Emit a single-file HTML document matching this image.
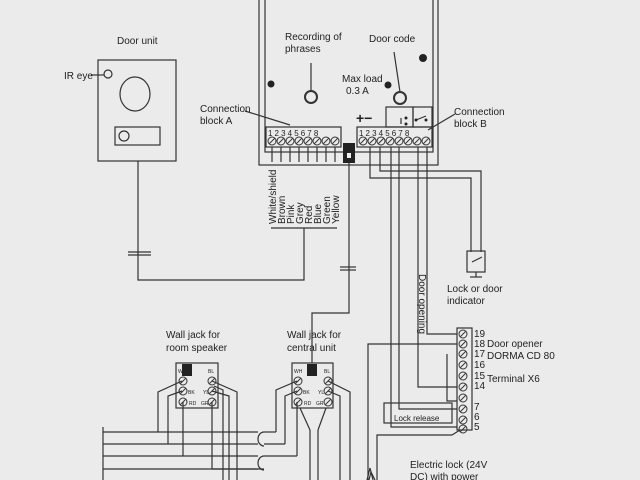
<!DOCTYPE html>
<html><head><style>
html,body{margin:0;padding:0;background:#ebebeb;}
svg{display:block;}
text{font-family:"Liberation Sans",sans-serif;font-size:10px;fill:#222;}
</style></head><body>
<svg width="640" height="480" viewBox="0 0 640 480" xmlns="http://www.w3.org/2000/svg">
<rect width="640" height="480" fill="#ebebeb"/>
<g stroke="#333" stroke-width="1.2" fill="none">
<rect x="259" y="-5" width="179" height="170"/>
<rect x="265" y="-5" width="168" height="157"/>
<rect x="266" y="127" width="75" height="20"/>
<rect x="357" y="127" width="75" height="20"/>
<rect x="386" y="107" width="27" height="20"/>
<rect x="413" y="107" width="19" height="20"/>
<line x1="401" y1="118" x2="401" y2="124"/><line x1="416" y1="120" x2="426" y2="116"/>
<circle cx="311" cy="97" r="6" stroke-width="2"/>
<circle cx="400" cy="98" r="6" stroke-width="2"/>
<line x1="311" y1="91" x2="311" y2="63"/>
<line x1="400" y1="92" x2="394" y2="52"/>
<line x1="455" y1="114" x2="428" y2="130"/>
<line x1="245" y1="111" x2="290" y2="125"/>
<rect x="98" y="60" width="78" height="101"/>
<circle cx="108" cy="74" r="4"/>
<line x1="91" y1="75" x2="104" y2="75"/>
<ellipse cx="135" cy="94" rx="15" ry="17"/>
<rect x="115" y="127" width="45" height="18"/>
<circle cx="124" cy="136" r="5"/>
<polyline points="138,161 138,280 304,280 304,228"/>
<line x1="128" y1="252" x2="151" y2="252"/>
<line x1="128" y1="255" x2="151" y2="255"/>
<line x1="271" y1="228" x2="337" y2="228"/>
<line x1="340" y1="267" x2="356" y2="267"/>
<line x1="340" y1="270" x2="356" y2="270"/>
<line x1="272" y1="147" x2="272" y2="162"/><line x1="281" y1="147" x2="281" y2="162"/><line x1="290" y1="147" x2="290" y2="162"/><line x1="299" y1="147" x2="299" y2="162"/><line x1="308" y1="147" x2="308" y2="162"/><line x1="317" y1="147" x2="317" y2="162"/><line x1="326" y1="147" x2="326" y2="162"/><line x1="335" y1="147" x2="335" y2="162"/>
<polyline points="349,160 349,313 312,313 312,363"/>
<polyline points="370,147 370,178 471,178 471,252"/>
<polyline points="380,147 380,171 481,171 481,252"/>
<polyline points="391,147 391,427 457,427"/>
<polyline points="399,147 399,409 457,409"/>
<polyline points="418,147 418,387 457,387"/>
<polyline points="427,147 427,334 457,334"/>
<polyline points="447,354 447,401 457,401"/>
<polyline points="457,344 368,344 368,480"/>
<polyline points="460,430 452,435 377,435 377,480"/>
<rect x="384" y="403" width="68" height="20"/>
<polyline points="367,480 370,468 373,480"/><polyline points="369,480 371,472 375,480"/>
<rect x="467" y="251" width="18" height="21"/>
<line x1="472" y1="262" x2="482" y2="257"/>
<line x1="476" y1="272" x2="476" y2="277"/><line x1="470" y1="277" x2="482" y2="277"/>
<rect x="457" y="328" width="15" height="102"/>
<rect x="176" y="363" width="42" height="45"/>
<rect x="292" y="363" width="41" height="45"/>
<line x1="103" y1="432" x2="258" y2="432"/><line x1="264" y1="432" x2="276" y2="432"/>
<line x1="103" y1="444" x2="258" y2="444"/><line x1="264" y1="444" x2="285" y2="444"/>
<line x1="103" y1="456" x2="258" y2="456"/><line x1="264" y1="456" x2="297" y2="456"/>
<line x1="103" y1="469" x2="258" y2="469"/><line x1="264" y1="469" x2="212" y2="469"/>
<polyline points="182,381 158,392 158,432"/>
<polyline points="182,391 168,396 168,444"/>
<polyline points="183,402 183,456"/>
<polyline points="212,381 237,392 237,480"/>
<polyline points="212,391 229,396 229,480"/>
<polyline points="214,386 223,390 223,480"/>
<polyline points="212,402 212,469"/>
<polyline points="297,381 276,390 276,432"/>
<polyline points="297,391 285,396 285,444"/>
<polyline points="297,402 297,456"/>
<polyline points="328,381 350,392 350,480"/>
<polyline points="328,391 340,396 340,480"/>
<line x1="300" y1="408" x2="310" y2="430"/><line x1="310" y1="430" x2="310" y2="480"/>
<line x1="326" y1="408" x2="318" y2="430"/><line x1="318" y1="430" x2="318" y2="480"/>
<line x1="103" y1="427" x2="103" y2="480"/>
<path d="M264,432 a6,7 0 0 0 0,14"/>
<path d="M264,456 a6,7 0 0 0 0,14"/>
</g>
<g fill="#222">
<circle cx="271" cy="84" r="3.5"/><circle cx="388" cy="85" r="3.5"/><circle cx="423" cy="58" r="4"/>
<rect x="343" y="143" width="12" height="20"/>
<rect x="182" y="364" width="10" height="12"/>
<rect x="307" y="364" width="10" height="12"/>
<circle cx="406" cy="118" r="1.5"/><circle cx="406" cy="124" r="1.5"/><circle cx="416" cy="120" r="1.5"/><circle cx="426" cy="120" r="1.5"/>
</g>
<rect x="347" y="153" width="4" height="5" fill="#eee"/>
<g stroke="#333" stroke-width="1" fill="none">
<g id="sa"><circle cx="272" cy="141" r="4"/><line x1="269" y1="144" x2="275" y2="138"/></g>
<use href="#sa" x="9"/><use href="#sa" x="18"/><use href="#sa" x="27"/><use href="#sa" x="36"/><use href="#sa" x="45"/><use href="#sa" x="54"/><use href="#sa" x="63"/>
<use href="#sa" x="91"/><use href="#sa" x="100"/><use href="#sa" x="109"/><use href="#sa" x="118"/><use href="#sa" x="127"/><use href="#sa" x="136"/><use href="#sa" x="145"/><use href="#sa" x="154"/>
<g id="sx"><circle cx="463" cy="334" r="4"/><line x1="460" y1="337" x2="466" y2="331"/></g>
<use href="#sx" y="10"/><use href="#sx" y="20"/><use href="#sx" y="31"/><use href="#sx" y="42"/><use href="#sx" y="53"/><use href="#sx" y="64"/><use href="#sx" y="75"/><use href="#sx" y="86"/><use href="#sx" y="95"/>
<g id="sj"><circle cx="183" cy="381" r="4"/><line x1="180" y1="384" x2="186" y2="378"/></g>
<use href="#sj" y="10"/><use href="#sj" y="21"/><use href="#sj" x="29"/><use href="#sj" x="29" y="10"/><use href="#sj" x="29" y="21"/>
<use href="#sj" x="115"/><use href="#sj" x="115" y="10"/><use href="#sj" x="115" y="21"/><use href="#sj" x="145"/><use href="#sj" x="145" y="10"/><use href="#sj" x="145" y="21"/>
</g>
<text x="117" y="44">Door unit</text>
<text x="64" y="79">IR eye</text>
<text x="285" y="40">Recording of</text><text x="285" y="52">phrases</text>
<text x="369" y="42">Door code</text>
<text x="342" y="82">Max load</text><text x="346" y="94">0.3 A</text>
<text x="200" y="112">Connection</text><text x="200" y="124">block A</text>
<text x="454" y="115">Connection</text><text x="454" y="127">block B</text>
<text x="356" y="123" style="font-size:14px;font-weight:bold">+−</text>
<text x="268" y="136" style="font-size:8px;letter-spacing:2.1px">12345678</text>
<text x="359" y="136" style="font-size:8px;letter-spacing:2.1px">12345678</text>
<g style="font-size:9px">
<text transform="translate(276,224) rotate(-90)">White/shield</text>
<text transform="translate(285,224) rotate(-90)">Brown</text>
<text transform="translate(294,224) rotate(-90)">Pink</text>
<text transform="translate(303,224) rotate(-90)">Grey</text>
<text transform="translate(312,224) rotate(-90)">Red</text>
<text transform="translate(321,224) rotate(-90)">Blue</text>
<text transform="translate(330,224) rotate(-90)">Green</text>
<text transform="translate(339,224) rotate(-90)">Yellow</text>
<text transform="translate(419,274) rotate(90)">Door opening</text>
</g>
<text x="447" y="292">Lock or door</text><text x="447" y="304">indicator</text>
<text x="166" y="338">Wall jack for</text><text x="166" y="351">room speaker</text>
<text x="287" y="338">Wall jack for</text><text x="287" y="351">central unit</text>
<text x="487" y="347">Door opener</text><text x="487" y="359">DORMA CD 80</text>
<text x="487" y="382">Terminal X6</text>
<text x="394" y="421" style="font-size:8px">Lock release</text>
<text x="410" y="468">Electric lock (24V</text><text x="410" y="480">DC) with power</text>
<g style="font-family:'Liberation Serif',serif;font-size:10px">
<text x="474" y="337">19</text><text x="474" y="347">18</text><text x="474" y="357">17</text><text x="474" y="368">16</text><text x="474" y="379">15</text><text x="474" y="389">14</text><text x="474" y="410">7</text><text x="474" y="420">6</text><text x="474" y="430">5</text>
</g>
<g transform="scale(0.5)" style="font-size:10px">
<text x="356" y="746">WH</text><text x="416" y="746">BL</text><text x="376" y="788">BK</text><text x="406" y="788">YL</text><text x="378" y="810">RD</text><text x="402" y="810">GR</text>
<text x="588" y="746">WH</text><text x="648" y="746">BL</text><text x="606" y="788">BK</text><text x="636" y="788">YL</text><text x="608" y="810">RD</text><text x="632" y="810">GR</text>
</g>
</svg>
</body></html>
